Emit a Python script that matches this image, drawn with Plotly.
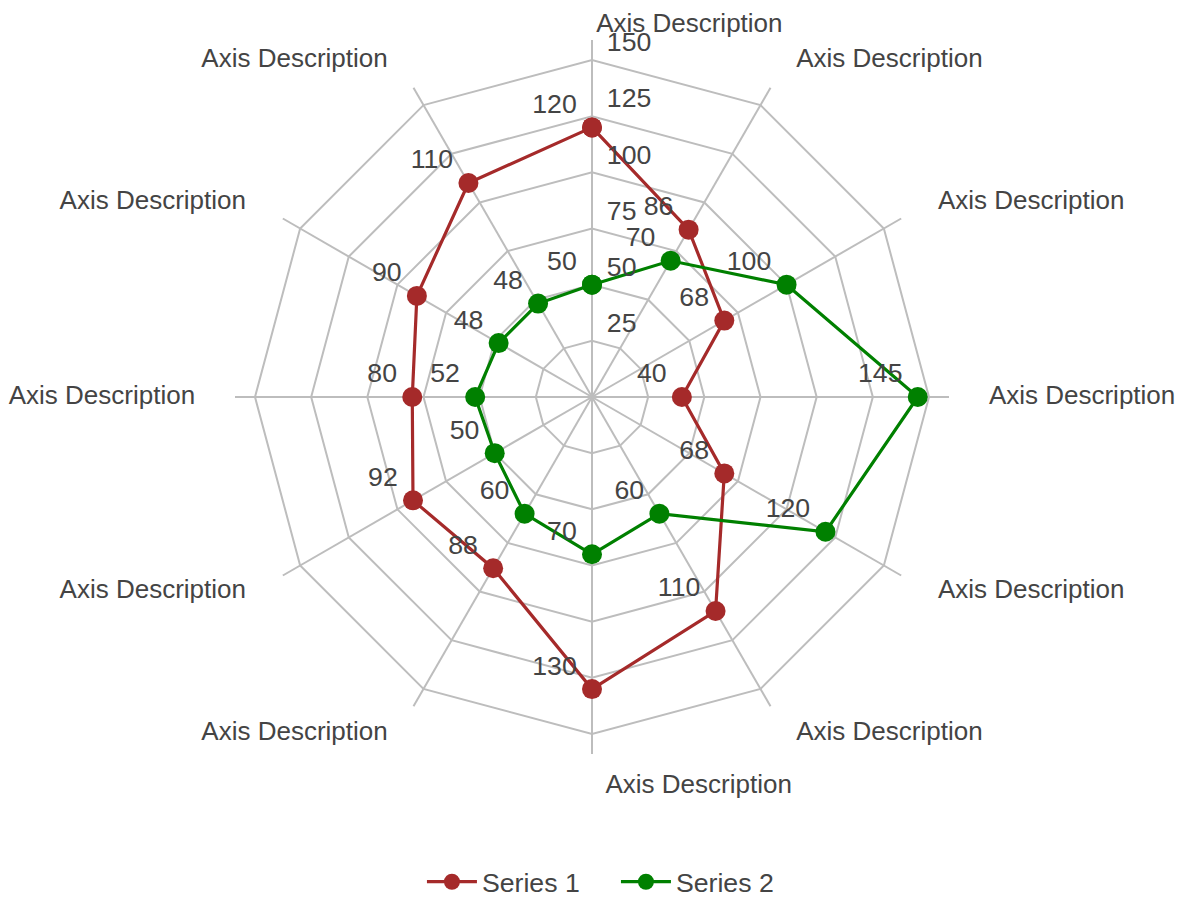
import plotly.graph_objects as go

axis_labels = ["Axis Description"] * 12
series1 = [120, 86, 68, 40, 68, 110, 130, 88, 92, 80, 90, 110]
series2 = [50, 70, 100, 145, 120, 60, 70, 60, 50, 52, 48, 48]
radial_ticks = [25, 50, 75, 100, 125, 150]

# unique (invisible) category keys so the 12 identical labels stay distinct
axis_keys = [lab + "\u200b" * i for i, lab in enumerate(axis_labels)]

FONT = "Arial, Liberation Sans, sans-serif"
TXT = "#444444"
GRID = "#bdbdbd"
FS = 26.67
FS_AX = 26
W, H = 1168, 889
CX, CY = 584, 389          # polar centre in figure pixels
R_MAIN = 357               # spokes reach 20px beyond the 150 ring
R_LAB = 389                # radius of the axis-description ring
NBSP = "\u00a0"


def dom(radius):
    return dict(x=[(CX - radius) / W, (CX + radius) / W],
                y=[(H - CY - radius) / H, (H - CY + radius) / H])


fig = go.Figure()
series = [("Series 1", series1, "#a52a2a"), ("Series 2", series2, "#008000")]
for name, vals, color in series:
    fig.add_trace(go.Scatterpolar(
        r=vals + vals[:1],
        theta=axis_keys + axis_keys[:1],
        mode="lines+markers",
        line=dict(color=color, width=3.2),
        marker=dict(color=color, size=20),
        name=name,
        cliponaxis=False,
        hoverinfo="r+name",
    ))
# value labels for each series
for name, vals, color in series:
    fig.add_trace(go.Scatterpolar(
        r=vals,
        theta=axis_keys,
        mode="markers+text",
        text=[f"{v}{NBSP}" for v in vals],
        textposition="top left",
        textfont=dict(family=FONT, size=FS, color=TXT),
        marker=dict(size=11, color="rgba(0,0,0,0)", line=dict(width=0)),
        showlegend=False,
        hoverinfo="skip",
        cliponaxis=False,
    ))

# axis description labels on an overlaid, invisible polar subplot
n = len(axis_keys)
label_pos, label_gap = [], []
for i in range(n):
    ang = 360 * i / n
    if ang == 0:
        label_pos.append("bottom right"); label_gap.append(5)
    elif ang == 180:
        label_pos.append("middle right"); label_gap.append(20)
    elif ang in (90, 270):
        label_pos.append("middle right" if ang == 90 else "middle left"); label_gap.append(11)
    elif ang < 180:
        label_pos.append("middle right"); label_gap.append(14 if ang in (30, 150) else 13)
    else:
        label_pos.append("middle left"); label_gap.append(14 if ang in (210, 330) else 13)

fig.add_trace(go.Scatterpolar(
    r=[1] * n,
    theta=axis_keys,
    mode="markers+text",
    text=axis_labels,
    textposition=label_pos,
    textfont=dict(family=FONT, size=FS_AX, color=TXT),
    marker=dict(size=label_gap, color="rgba(0,0,0,0)", line=dict(width=0)),
    showlegend=False,
    hoverinfo="skip",
    cliponaxis=False,
    subplot="polar2",
))

fig.update_layout(
    width=W, height=H,
    paper_bgcolor="white",
    font=dict(family=FONT, size=FS, color=TXT),
    margin=dict(l=0, r=0, t=0, b=0, autoexpand=False),
    polar=dict(
        domain=dom(R_MAIN),
        bgcolor="white",
        gridshape="linear",
        radialaxis=dict(
            range=[0, 150 * R_MAIN / 337], tickvals=radial_ticks,
            ticktext=[f"{v}<br> " for v in radial_ticks],
            angle=90, tickangle=90,
            showline=False, ticks="outside", ticklen=9, tickcolor="rgba(0,0,0,0)",
            gridcolor=GRID, gridwidth=1.5,
            tickfont=dict(family=FONT, size=FS, color=TXT),
        ),
        angularaxis=dict(
            type="category", categoryarray=axis_keys,
            direction="clockwise", rotation=90,
            showticklabels=False, showline=False, ticks="",
            gridcolor=GRID, gridwidth=1.5,
        ),
    ),
    polar2=dict(
        domain=dom(R_LAB),
        bgcolor="rgba(0,0,0,0)",
        radialaxis=dict(range=[0, 1], visible=False),
        angularaxis=dict(
            type="category", categoryarray=axis_keys,
            direction="clockwise", rotation=90, visible=False,
        ),
    ),
    legend=dict(orientation="h", x=0.5205, xanchor="center", y=0.017, yanchor="middle",
                itemwidth=50, entrywidth=129,
                font=dict(family=FONT, size=FS, color=TXT)),
)

fig.write_html("out.html")
